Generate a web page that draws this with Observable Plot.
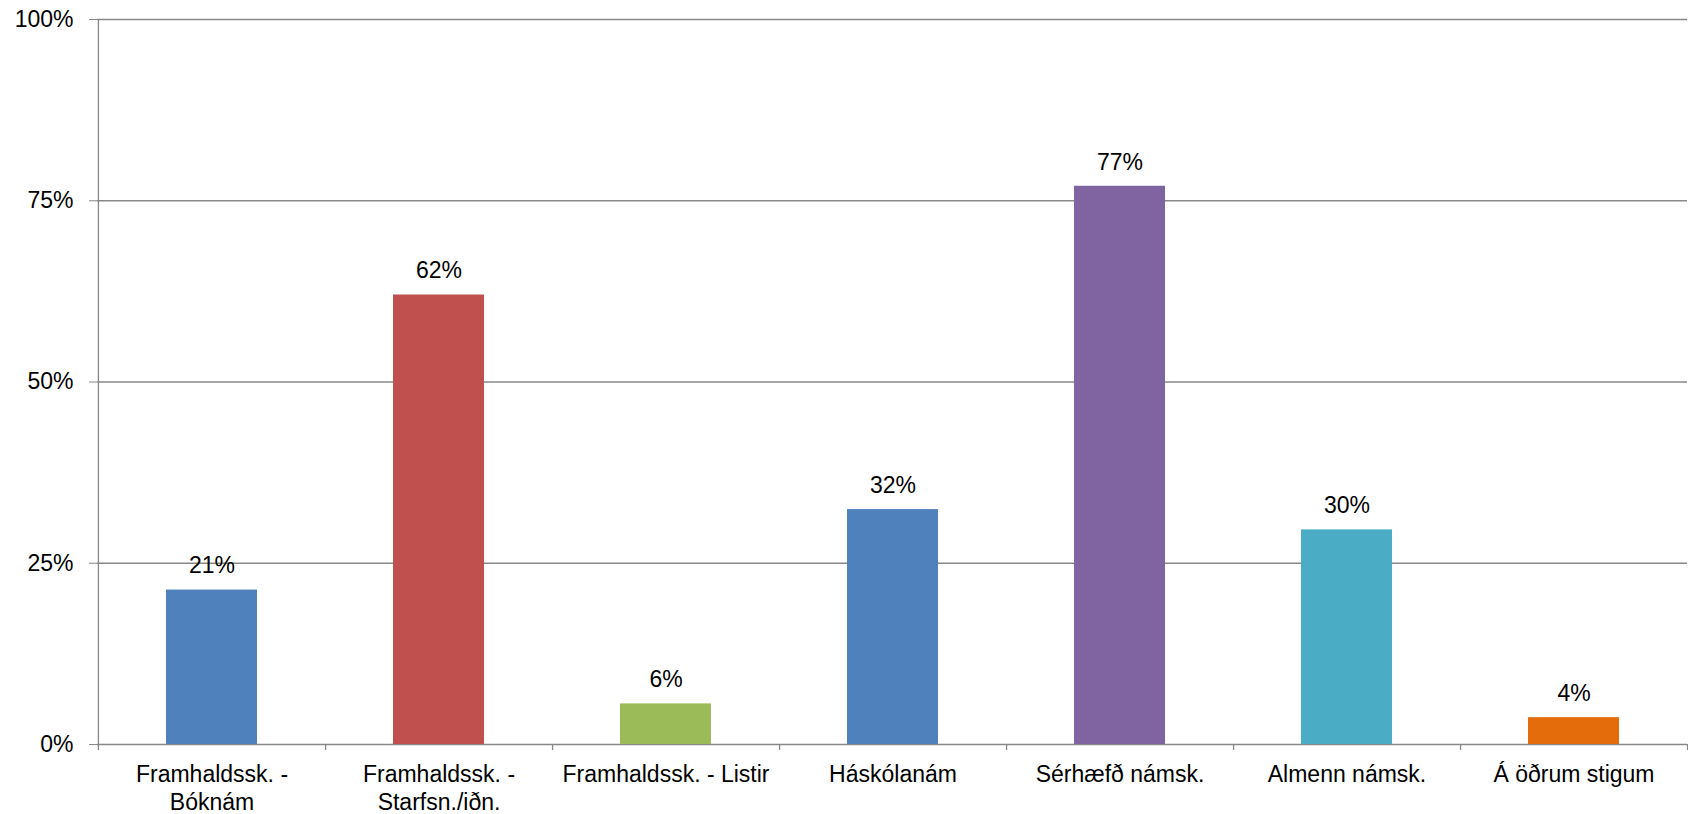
<!DOCTYPE html>
<html>
<head>
<meta charset="utf-8">
<script src="https://cdn.jsdelivr.net/npm/d3@7"></script>
<script src="https://cdn.jsdelivr.net/npm/@observablehq/plot@0.6"></script>
<style>
  html, body { margin: 0; padding: 0; background: #fff; }
  #chart svg { display: block; }
</style>
</head>
<body>
<div id="chart"></div>
<script>
// ---- Data ----
const categories = [
  "Framhaldssk. - Bóknám",
  "Framhaldssk. - Starfsn./iðn.",
  "Framhaldssk. - Listir",
  "Háskólanám",
  "Sérhæfð námsk.",
  "Almenn námsk.",
  "Á öðrum stigum"
];
const tickLabels = [
  "Framhaldssk. -\nBóknám",
  "Framhaldssk. -\nStarfsn./iðn.",
  "Framhaldssk. - Listir",
  "Háskólanám",
  "Sérhæfð námsk.",
  "Almenn námsk.",
  "Á öðrum stigum"
];
const values = [21.3, 62.0, 5.6, 32.4, 77.0, 29.6, 3.7];
const valueLabels = ["21%", "62%", "6%", "32%", "77%", "30%", "4%"];
const colors = ["#4F81BD", "#C0504D", "#9BBB59", "#4F81BD", "#8064A2", "#4BACC6", "#E46C0A"];
const yTicks = [0, 25, 50, 75, 100];

const rows = categories.map((c, i) => ({cat: c, value: values[i], label: valueLabels[i], color: colors[i]}));

// ---- Layout ----
const W = 1688, H = 814;
const mL = 97, mR = 1, mT = 19, mB = 70;
const step = (W - mL - mR) / categories.length;
const gray = "#888888";
const font = "Liberation Sans, Arial, Helvetica, sans-serif";

const chart = Plot.plot({
  width: W,
  height: H,
  marginLeft: mL,
  marginRight: mR,
  marginTop: mT,
  marginBottom: mB,
  style: {fontFamily: font, fontSize: "23px", color: "#000", background: "#fff"},
  x: {domain: categories, padding: 0},
  y: {domain: [0, 100]},
  marks: [
    Plot.gridY(yTicks, {stroke: gray, strokeOpacity: 1, strokeWidth: 1.3}),
    Plot.barY(rows, {x: "cat", y: "value", fill: "color", insetLeft: 68, insetRight: 68}),
    // left axis line
    Plot.ruleX([categories[0]], {x: d => d, y1: 100, y2: 0, dx: -step / 2, insetBottom: -6, stroke: gray, strokeWidth: 1.3}),
    // category boundary ticks
    Plot.ruleX(categories, {x: d => d, y1: 0, y2: 0, dx: step / 2, insetBottom: -6, stroke: gray, strokeWidth: 1.3}),
    Plot.axisY({ticks: yTicks, tickFormat: d => d + "%", tickSize: 8, tickPadding: 16, stroke: gray, strokeOpacity: 1, fontSize: 23, fill: "#000", label: null}),
    Plot.axisX({tickSize: 0, tickPadding: 18, tickFormat: d => tickLabels[categories.indexOf(d)], lineHeight: 1.22, fontSize: 23, fill: "#000", label: null}),
    Plot.text(rows, {x: "cat", y: "value", text: "label", dy: -24, fontSize: 23, fill: "#000"})
  ]
});

document.getElementById("chart").appendChild(chart);
</script>
</body>
</html>
